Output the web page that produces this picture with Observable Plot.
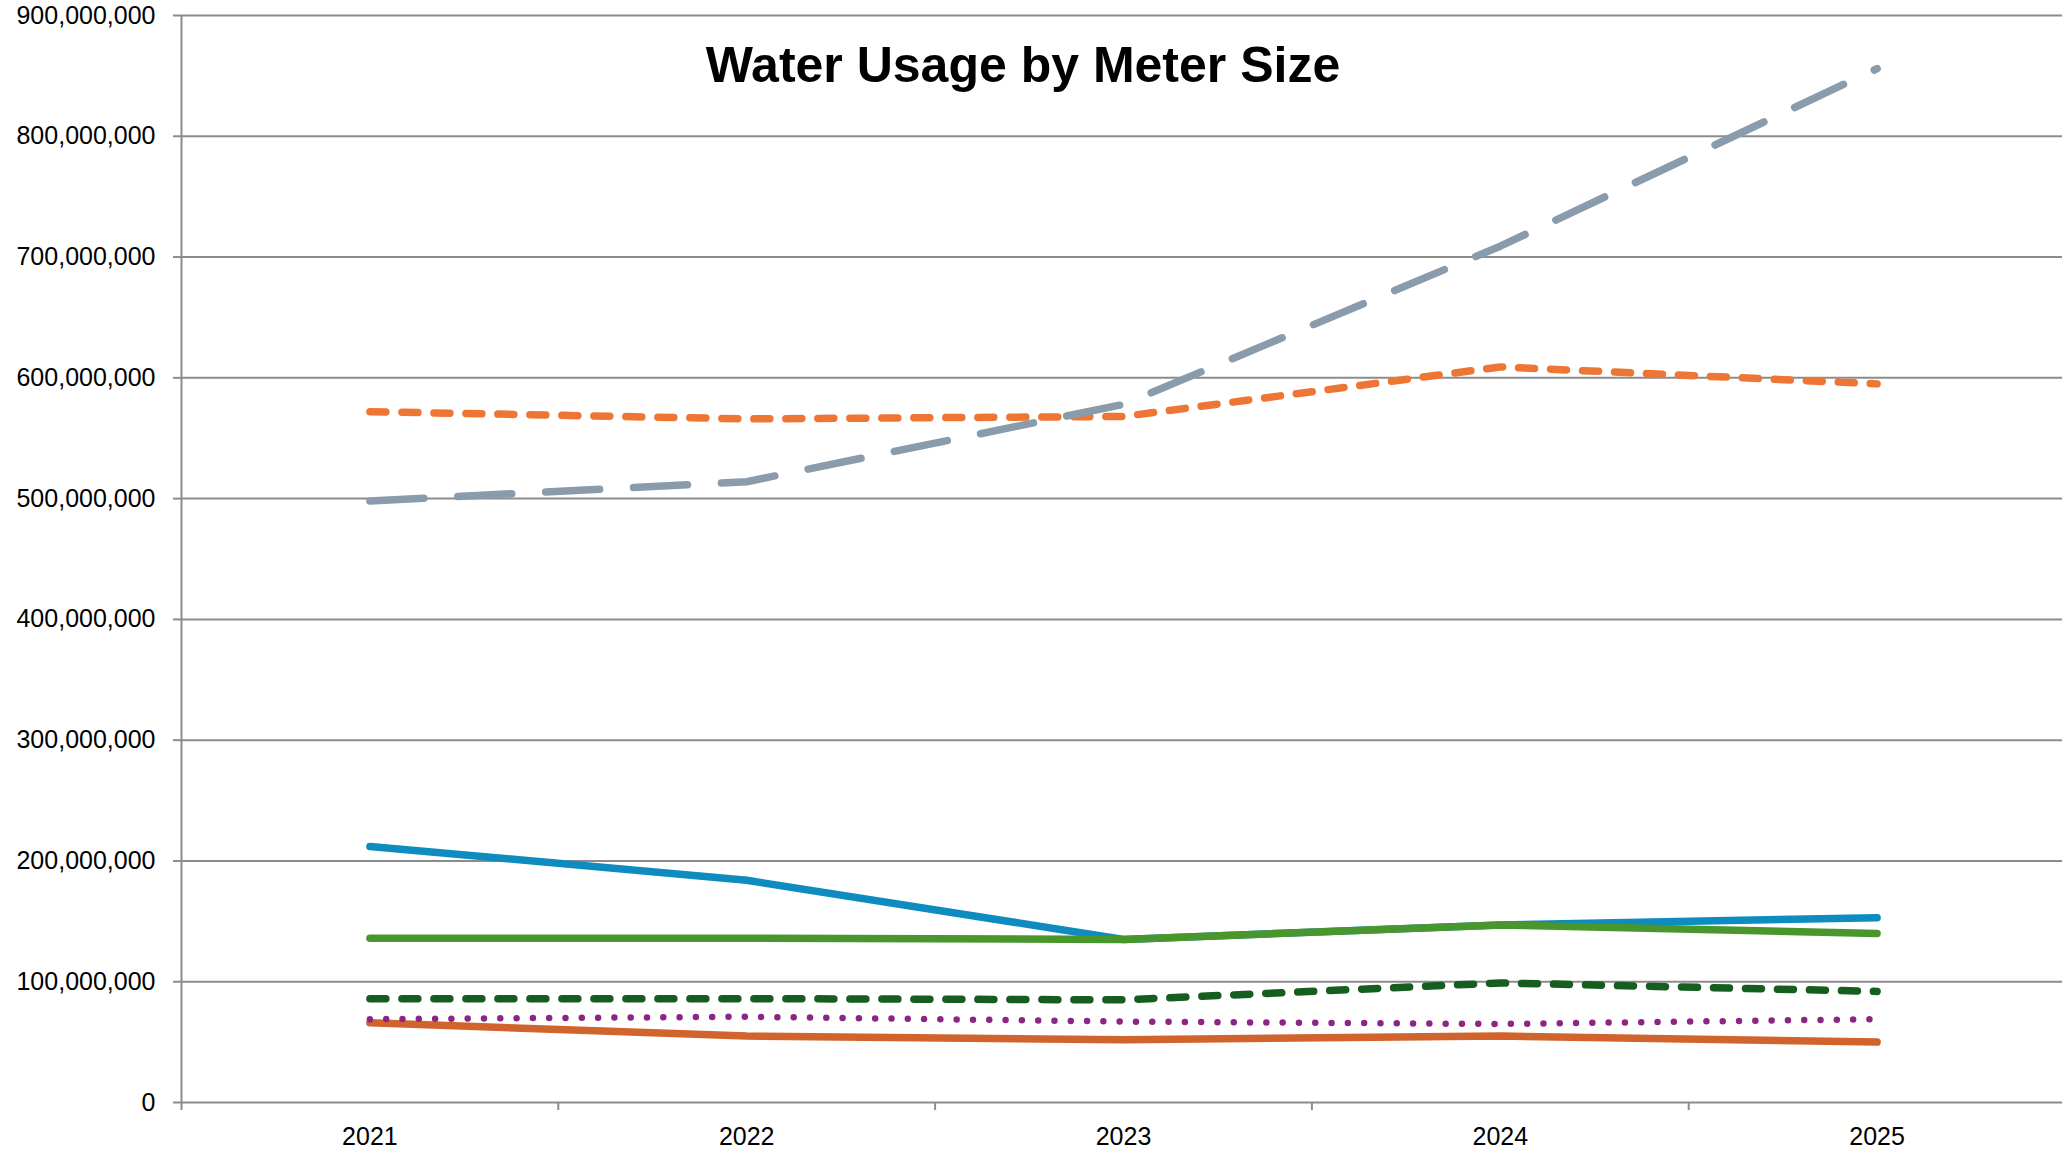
<!DOCTYPE html>
<html>
<head>
<meta charset="utf-8">
<script src="https://cdn.jsdelivr.net/npm/d3@7"></script>
<script src="https://cdn.jsdelivr.net/npm/@observablehq/plot@0.6"></script>
<style>
  html, body { margin: 0; padding: 0; background: #fff; }
  #wrap { position: relative; width: 2062px; height: 1153px; overflow: hidden; }
  #title {
    position: absolute; left: 0; top: 40px; width: 2046px; text-align: center;
    font-family: "Liberation Sans", Arial, sans-serif; font-weight: bold;
    font-size: 50px; line-height: 50px; color: #000; pointer-events: none;
  }
</style>
</head>
<body>
<div id="wrap">
  <div id="chart"></div>
  <div id="title">Water Usage by Meter Size</div>
</div>
<script>
// ---- data ----
const years = [2021, 2022, 2023, 2024, 2025];
const grayDashed      = [498e6, 514e6, 578e6, 709e6, 856e6];
const orangeDashed    = [572e6, 566e6, 568e6, 609e6, 595e6];
const blueSolid       = [212e6, 184e6, 135e6, 147e6, 153e6];
const greenSolid      = [136e6, 136e6, 135e6, 147e6, 140e6];
const darkGreenDashed = [86e6, 86e6, 85e6, 99e6, 92e6];
const purpleDotted    = [69e6, 71e6, 67e6, 65e6, 69e6];
const darkOrangeSolid = [66e6, 55e6, 52e6, 55e6, 50e6];
const yTicks = [0, 100e6, 200e6, 300e6, 400e6, 500e6, 600e6, 700e6, 800e6, 900e6];
const bandEdges = [2020.5, 2021.5, 2022.5, 2023.5, 2024.5, 2025.5];

// ---- styles (drawing order) ----
const series = [
  {values: orangeDashed,    stroke: "#ED7634", width: 7.5, dash: "16,16"},
  {values: grayDashed,      stroke: "#8A9BAC", width: 7.5, dash: "54,34"},
  {values: blueSolid,       stroke: "#0E8BBF", width: 7.5, dash: null},
  {values: greenSolid,      stroke: "#48962C", width: 7.5, dash: null},
  {values: darkGreenDashed, stroke: "#165E20", width: 7.5, dash: "16,16"},
  {values: darkOrangeSolid, stroke: "#D0642C", width: 7.5, dash: null},
  {values: purpleDotted,    stroke: "#8E2585", width: 6.5, dash: "0,16.3"}
];

const gridColor = "#8c8c8c";
const font = "'Liberation Sans', Arial, sans-serif";

const lineMarks = series.map(s => Plot.line(
  years.map((y, i) => ({year: y, value: s.values[i]})),
  {
    x: "year", y: "value",
    stroke: s.stroke, strokeWidth: s.width,
    strokeDasharray: s.dash || undefined,
    strokeLinecap: "round", strokeLinejoin: "round"
  }
));

const chart = Plot.plot({
  width: 2062,
  height: 1153,
  marginLeft: 181,
  marginRight: 0,
  marginTop: 15,
  marginBottom: 51,
  style: {fontFamily: font, fontSize: "25px", color: "#000", background: "#fff", overflow: "visible"},
  x: {type: "linear", domain: [2020.5, 2025.5], range: [181, 2065]},
  y: {domain: [0, 900e6], range: [1102, 15]},
  marks: [
    Plot.gridY(yTicks, {stroke: gridColor, strokeOpacity: 1, strokeWidth: 2}),
    Plot.ruleX([2020.5], {y1: 0, y2: 900e6, stroke: gridColor, strokeWidth: 2}),
    Plot.axisY({
      ticks: yTicks, tickFormat: d3.format(","), tickSize: 8, tickPadding: 18,
      stroke: gridColor, strokeWidth: 2, fill: "#000", fontSize: 25, label: null
    }),
    Plot.axisX({
      ticks: bandEdges, tickFormat: () => "", tickSize: 8,
      stroke: gridColor, strokeWidth: 2, label: null
    }),
    Plot.axisX({
      ticks: years, tickFormat: d => String(d), tickSize: 0, tickPadding: 25,
      fill: "#000", fontSize: 25, label: null
    }),
    ...lineMarks
  ]
});

document.getElementById("chart").appendChild(chart);
</script>
</body>
</html>
